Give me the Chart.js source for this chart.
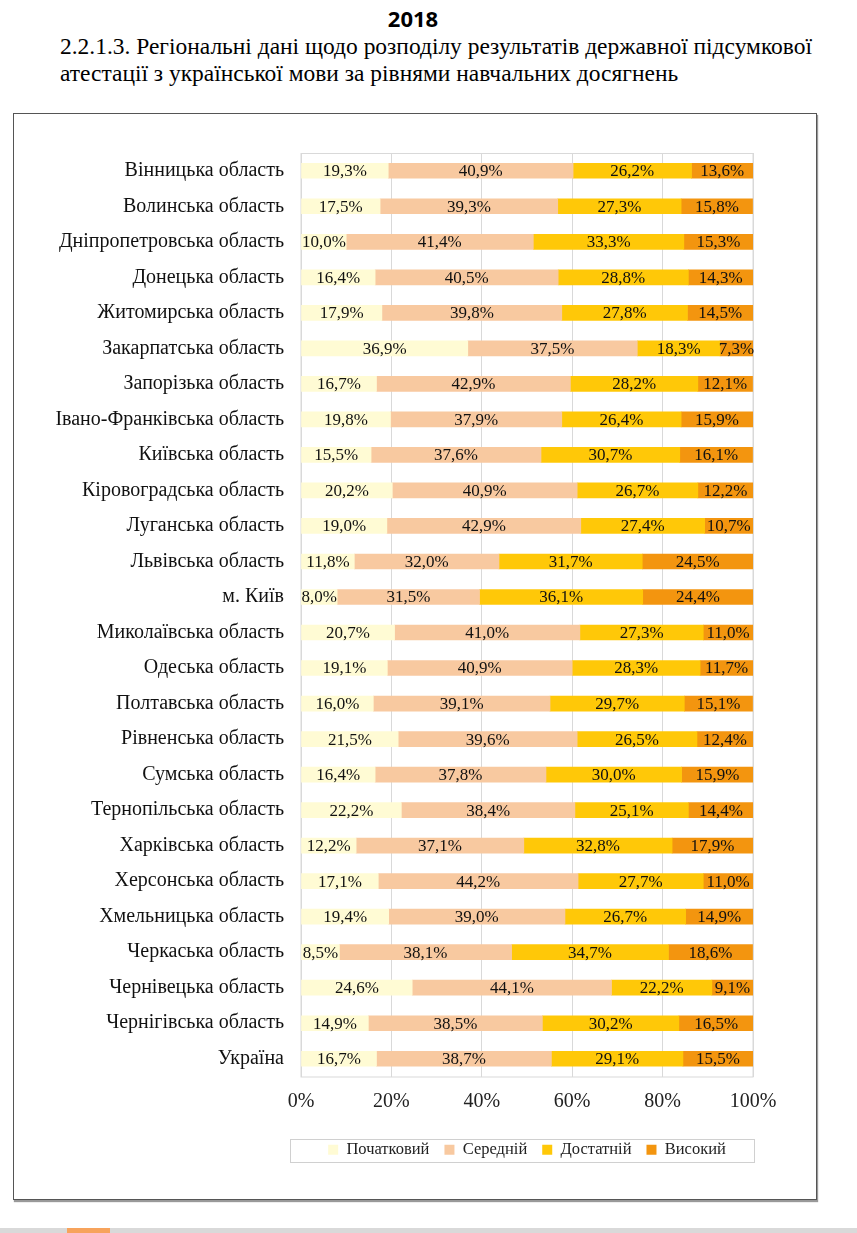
<!DOCTYPE html>
<html lang="uk">
<head>
    <meta charset="UTF-8">
    <title>2018 - ДПА з української мови</title>
    <script src="https://cdn.jsdelivr.net/npm/chart.js"></script>
    <style>
        body { margin: 0; background: #fff; width: 857px; height: 1233px; position: relative; overflow: hidden; }
        #year { position: absolute; top: 3px; left: 0; width: 826px; text-align: center;
                font-family: 'Open Sans', sans-serif; font-weight: bold; font-size: 22px; color: #000; }
        .line { position: absolute; left: 60px; white-space: nowrap; transform-origin: 0 0;
                font-family: 'Liberation Serif', serif; font-size: 24px; line-height: 27px; color: #000; }
        #box { position: absolute; left: 13px; top: 113px; width: 802px; height: 1085px;
               border: 1px solid #555; box-shadow: 1px 2px 1px #999; }
        #strip { position: absolute; left: 0; top: 1228px; width: 857px; height: 5px; background: #d9d9d9; }
        #strip span { position: absolute; left: 67px; width: 43px; height: 5px; background: #f7a35c; }
    </style>
</head>
<body>
    <div id="year">2018</div>
    <div class="line" id="line1" style="top: 33px;">2.2.1.3. Регіональні дані щодо розподілу результатів державної підсумкової</div>
    <div class="line" id="line2" style="top: 60px;">атестації з української мови за рівнями навчальних досягнень</div>
    <div id="box"><canvas id="chart" width="802" height="1085"></canvas></div>
    <div id="strip"><span></span></div>
    <script>
        const regions = [
            'Вінницька область', 'Волинська область', 'Дніпропетровська область', 'Донецька область',
            'Житомирська область', 'Закарпатська область', 'Запорізька область', 'Івано-Франківська область',
            'Київська область', 'Кіровоградська область', 'Луганська область', 'Львівська область',
            'м. Київ', 'Миколаївська область', 'Одеська область', 'Полтавська область',
            'Рівненська область', 'Сумська область', 'Тернопільська область', 'Харківська область',
            'Херсонська область', 'Хмельницька область', 'Черкаська область', 'Чернівецька область',
            'Чернігівська область', 'Україна'
        ];
        const pochatkovyi = [19.3, 17.5, 10.0, 16.4, 17.9, 36.9, 16.7, 19.8, 15.5, 20.2, 19.0, 11.8, 8.0,
                             20.7, 19.1, 16.0, 21.5, 16.4, 22.2, 12.2, 17.1, 19.4, 8.5, 24.6, 14.9, 16.7];
        const serednii   = [40.9, 39.3, 41.4, 40.5, 39.8, 37.5, 42.9, 37.9, 37.6, 40.9, 42.9, 32.0, 31.5,
                             41.0, 40.9, 39.1, 39.6, 37.8, 38.4, 37.1, 44.2, 39.0, 38.1, 44.1, 38.5, 38.7];
        const dostatnii  = [26.2, 27.3, 33.3, 28.8, 27.8, 18.3, 28.2, 26.4, 30.7, 26.7, 27.4, 31.7, 36.1,
                             27.3, 28.3, 29.7, 26.5, 30.0, 25.1, 32.8, 27.7, 26.7, 34.7, 22.2, 30.2, 29.1];
        const vysokyi    = [13.6, 15.8, 15.3, 14.3, 14.5, 7.3, 12.1, 15.9, 16.1, 12.2, 10.7, 24.5, 24.4,
                             11.0, 11.7, 15.1, 12.4, 15.9, 14.4, 17.9, 11.0, 14.9, 18.6, 9.1, 16.5, 15.5];
        const levelNames = ['Початковий', 'Середній', 'Достатній', 'Високий'];
        const levelColors = ['#fffbd4', '#f8c9a0', '#ffc808', '#f3950f'];
        const xTicks = [0, 20, 40, 60, 80, 100];

        const serif = '"Liberation Serif", serif';

        // the scanned heading is a condensed face: squeeze both lines to the width of line 1
        const l1 = document.getElementById('line1');
        const squeeze = 752 / l1.getBoundingClientRect().width;
        document.querySelectorAll('.line').forEach(el => { el.style.transform = 'scaleX(' + squeeze + ')'; });

        // labels inside each bar segment
        const segmentLabels = {
            id: 'segmentLabels',
            afterDatasetsDraw(chart) {
                const ctx = chart.ctx;
                ctx.save();
                ctx.font = '17px ' + serif;
                ctx.fillStyle = '#111';
                ctx.textAlign = 'center';
                ctx.textBaseline = 'middle';
                chart.data.datasets.forEach((ds, i) => {
                    chart.getDatasetMeta(i).data.forEach((bar, j) => {
                        const x = (bar.x + bar.base) / 2;
                        ctx.fillText(ds.data[j].toFixed(1).replace('.', ',') + '%', x, bar.y + 1);
                    });
                });
                ctx.restore();
            }
        };

        // frame round the plot area and round the legend
        const frames = {
            id: 'frames',
            beforeDatasetsDraw(chart) {
                const a = chart.chartArea;
                const ctx = chart.ctx;
                ctx.save();
                ctx.strokeStyle = '#d9d9d9';
                ctx.lineWidth = 1;
                ctx.strokeRect(a.left, Math.round(a.top) + 0.5, a.right - a.left, a.bottom - a.top);
                ctx.restore();
            },
            afterDraw(chart) {
                const ctx = chart.ctx;
                const items = chart.legend.legendHitBoxes;
                if (!items.length) return;
                const last = items[items.length - 1];
                const x0 = items[0].left - 38, x1 = last.left + last.width + 28;
                const y0 = items[0].top - 3, h = items[0].height + 6;
                ctx.save();
                ctx.strokeStyle = '#d0d0d0';
                ctx.lineWidth = 1;
                ctx.strokeRect(Math.round(x0) + 0.5, Math.round(y0) + 0.5, Math.round(x1 - x0), Math.round(h));
                ctx.restore();
            }
        };

        const sets = [pochatkovyi, serednii, dostatnii, vysokyi];
        new Chart(document.getElementById('chart'), {
            type: 'bar',
            data: {
                labels: regions,
                datasets: sets.map((d, i) => ({
                    label: levelNames[i],
                    data: d,
                    backgroundColor: levelColors[i],
                    borderWidth: 0,
                    barThickness: 15
                }))
            },
            options: {
                indexAxis: 'y',
                responsive: false,
                animation: false,
                devicePixelRatio: 1,
                layout: { padding: { top: 39, right: 63, bottom: 31, left: 0 } },
                scales: {
                    x: {
                        stacked: true,
                        min: 0,
                        max: 100,
                        afterBuildTicks: s => { s.ticks = xTicks.map(v => ({ value: v })); },
                        afterFit: s => { s.height = 50; },
                        ticks: {
                            callback: v => v + '%',
                            font: { family: serif, size: 20 },
                            color: '#222',
                            padding: 13
                        },
                        grid: { color: '#d9d9d9', drawTicks: false },
                        border: { display: false }
                    },
                    y: {
                        stacked: true,
                        afterFit: s => { s.width = 287; },
                        ticks: {
                            font: { family: serif, size: 20 },
                            color: '#111',
                            padding: 17,
                            autoSkip: false
                        },
                        grid: { display: false, drawTicks: false },
                        border: { display: false }
                    }
                },
                plugins: {
                    legend: {
                        position: 'bottom',
                        fullSize: false,
                        labels: {
                            font: { family: serif, size: 16.5 },
                            color: '#222',
                            boxWidth: 10,
                            boxHeight: 10,
                            padding: 15
                        }
                    },
                    tooltip: { enabled: false }
                }
            },
            plugins: [segmentLabels, frames]
        });
    </script>
</body>
</html>
